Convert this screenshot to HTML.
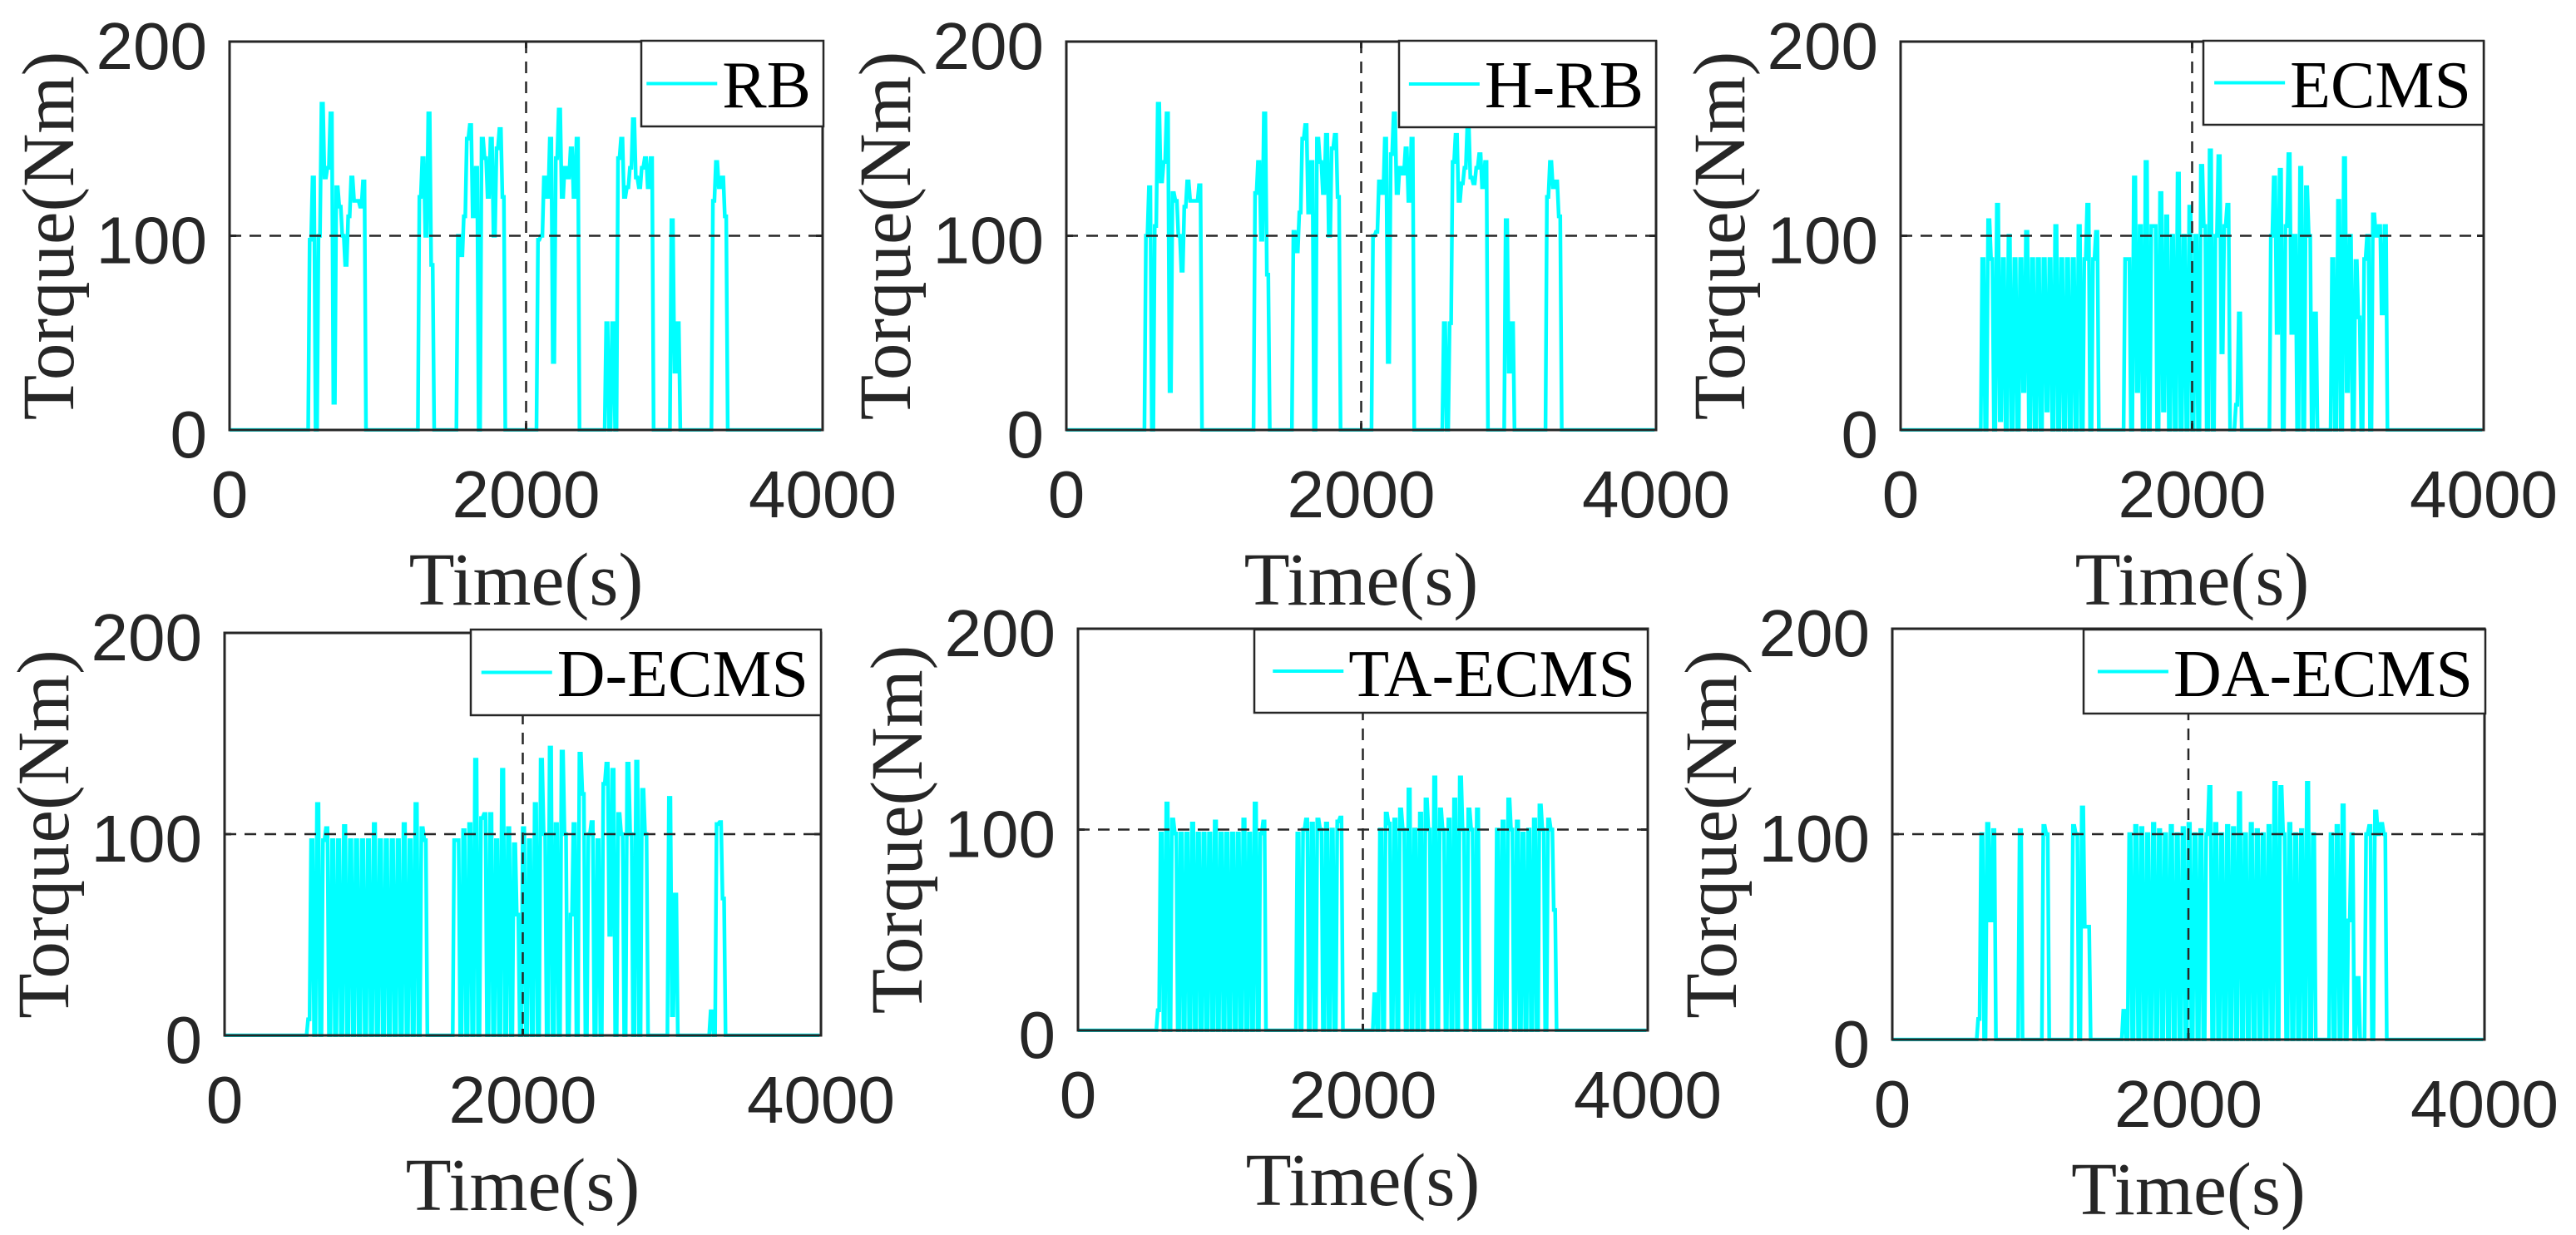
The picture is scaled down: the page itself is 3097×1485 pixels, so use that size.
<!DOCTYPE html>
<html>
<head>
<meta charset="utf-8">
<style>
html,body{margin:0;padding:0;background:#fff;}
svg{display:block;}
</style>
</head>
<body>
<svg id="fig" xmlns="http://www.w3.org/2000/svg" width="3097" height="1485" viewBox="0 0 3097 1485">
<rect x="0" y="0" width="3097" height="1485" fill="#fff"/>
</svg>
<script>
// Time sample step (s) and axis ranges
const sampleStep = 20;
const xTicks = [0, 2000, 4000];
const yTicks = [0, 100, 200];
const xTickLabels = ["0", "2000", "4000"];
const yTickLabels = ["0", "100", "200"];
const seriesNames = ["RB", "H-RB", "ECMS", "D-ECMS", "TA-ECMS", "DA-ECMS"];

const rbTorque = [0,0,0,0,0,0,0,0,0,0,0,0,0,0,0,0,0,0,0,0,0,0,0,0,0,0,
0,98,130,0,100,168,130,135,163,14,125,115,100,85,110,130,118,118,115,128,0,
0,0,0,0,0,0,0,0,0,0,0,0,0,0,0,0,0,
120,140,100,163,85,0,
0,0,0,0,0,0,0,
100,90,110,150,157,110,135,0,150,140,120,150,100,145,155,120,0,
0,0,0,0,0,0,0,0,0,0,
98,100,130,120,150,35,140,165,120,135,130,145,120,150,0,
0,0,0,0,0,0,0,0,
55,0,55,0,140,150,120,125,135,160,130,125,135,140,125,140,0,
0,0,0,0,0,
108,30,55,0,0,
0,0,0,0,0,0,0,0,0,
118,138,125,130,110,0,
0,0,0,0,0,0,0,0,0,0,0,0,0,0,0,0,0,0,0,0,0,0,0,0,0,0,0,0,0,0,0];

const hrbTorque = [0,0,0,0,0,0,0,0,0,0,0,0,0,0,0,0,0,0,0,0,0,0,0,0,0,0,
0,100,125,0,105,168,128,138,163,20,122,118,100,82,115,128,118,118,118,126,0,
0,0,0,0,0,0,0,0,0,0,0,0,0,0,0,0,0,
122,138,98,163,80,0,
0,0,0,0,0,0,0,
102,92,112,150,157,112,138,0,150,138,122,152,100,145,152,120,0,
0,0,0,0,0,0,0,0,0,0,
100,102,128,122,150,35,142,163,122,135,132,145,118,150,0,
0,0,0,0,0,0,0,0,
0,55,0,55,138,152,118,127,135,157,130,127,135,142,125,138,0,
0,0,0,0,0,
108,30,55,0,0,
0,0,0,0,0,0,0,0,0,
120,138,125,128,110,0,
0,0,0,0,0,0,0,0,0,0,0,0,0,0,0,0,0,0,0,0,0,0,0,0,0,0,0,0,0,0,0];

const ecmsTorque = [0,0,0,0,0,0,0,0,0,0,0,0,0,0,0,0,0,0,0,0,0,0,0,0,0,0,0,0,
88,0,108,88,0,116,5,88,0,100,0,88,0,88,20,102,0,88,0,88,0,88,10,88,0,105,0,88,0,88,0,88,0,105,0,88,116,0,88,102,0,
0,0,0,0,0,0,0,0,
88,88,0,130,20,105,0,138,0,105,105,0,122,10,110,0,100,0,132,0,100,0,115,0,100,0,136,105,0,144,0,100,141,40,105,116,0,0,13,60,0,
0,0,0,0,0,0,0,0,0,
100,130,50,134,0,105,142,50,100,0,135,0,125,100,0,60,0,
0,0,0,0,
88,0,118,0,140,20,100,0,87,58,0,88,100,0,111,100,105,60,105,0,0,
0,0,0,0,0,0,0,0,0,0,0,0,0,0,0,0,0,0,0,0,0,0,0,0,0,0,0,0,0,0,0];

const decmsTorque = [0,0,0,0,0,0,0,0,0,0,0,0,0,0,0,0,0,0,0,0,0,0,0,0,0,0,0,0,
8,
97,0,115,0,97,103,0,97,0,97,0,104,0,97,0,97,0,97,0,97,0,105,0,97,0,97,0,97,0,97,0,105,0,97,0,115,0,103,97,0,
0,0,0,0,0,0,0,0,
97,97,0,102,0,105,0,137,0,108,110,0,110,0,97,0,132,0,103,0,95,60,0,103,0,97,0,
115,0,137,100,0,143,0,105,0,141,100,0,60,105,0,140,120,0,100,106,0,97,0,125,135,50,132,0,110,100,0,135,100,0,136,0,122,100,0,0,
0,0,0,0,0,
118,10,70,0,
0,0,0,0,0,0,0,0,0,0,
12,0,105,106,68,0,
0,0,0,0,0,0,0,0,0,0,0,0,0,0,0,0,0,0,0,0,0,0,0,0,0,0,0,0,0,0,0];

const taecmsTorque = [0,0,0,0,0,0,0,0,0,0,0,0,0,0,0,0,0,0,0,0,0,0,0,0,0,0,0,0,
10,
98,0,113,0,105,98,0,98,0,98,0,103,0,98,0,98,0,98,0,104,0,98,0,98,0,98,0,98,0,105,0,98,0,113,0,98,104,0,0,
0,0,0,0,0,0,0,0,0,
98,0,100,105,0,103,0,105,100,0,103,0,100,0,104,106,0,
0,0,0,0,0,0,0,0,0,0,
18,0,
100,0,108,103,0,105,0,110,100,0,120,0,100,0,108,0,115,100,0,126,0,110,100,0,105,0,115,0,126,100,0,110,100,0,110,0,0,
0,0,0,0,
100,0,104,0,115,100,0,104,0,98,0,100,0,105,0,112,100,0,105,100,60,0,
0,0,0,0,0,0,0,0,0,0,0,0,0,0,0,0,0,0,0,0,0,0,0,0,0,0,0,0,0,0,0];

const daecmsTorque = [0,0,0,0,0,0,0,0,0,0,0,0,0,0,0,0,0,0,0,0,0,0,0,0,0,0,0,0,
0,10,100,0,105,58,102,0,
0,0,0,0,0,0,0,
102,0,
0,0,0,0,0,0,
104,100,0,
0,0,0,0,0,0,0,
104,100,0,113,55,55,0,
0,0,0,0,0,0,0,0,0,0,
14,0,
100,0,104,0,103,0,100,0,105,0,102,0,100,0,104,0,100,0,103,0,105,0,100,0,102,0,100,123,0,105,0,100,0,104,0,103,0,120,0,100,0,105,0,102,0,100,0,104,0,125,0,123,100,0,105,0,100,0,102,0,125,0,100,0,
0,0,0,0,
100,0,104,0,114,0,58,100,0,30,0,0,100,104,0,111,100,105,100,0,0,
0,0,0,0,0,0,0,0,0,0,0,0,0,0,0,0,0,0,0,0,0,0,0,0,0,0,0,0,0,0,0];

const allSeries = [rbTorque, hrbTorque, ecmsTorque, decmsTorque, taecmsTorque, daecmsTorque];

// Layout (pixel geometry)
const panels = [
  {L:276, R:989, T:50, B:517, lg:[771,49,990,152]},
  {L:1282, R:1991, T:50, B:517, lg:[1682,49,1991,153]},
  {L:2285, R:2986, T:50, B:517, lg:[2649,49,2986,150]},
  {L:270, R:987, T:761, B:1245, lg:[566,757,987,860]},
  {L:1296, R:1981, T:756, B:1239, lg:[1508,757,1981,857]},
  {L:2275, R:2987, T:756, B:1250, lg:[2505,757,2988,858]}
];

const NS = "http://www.w3.org/2000/svg";
const svg = document.getElementById('fig');
const AX = "#262626";
function mk(tag, attrs, parent){
  const e = document.createElementNS(NS, tag);
  for (const k in attrs) e.setAttribute(k, attrs[k]);
  (parent||svg).appendChild(e);
  return e;
}

panels.forEach((p, idx) => {
  const data = allSeries[idx];
  const name = seriesNames[idx];
  const xs = t => p.L + (t - 0) / 4000 * (p.R - p.L);
  const ys = v => p.B - (v - 0) / 200 * (p.B - p.T);
  const g = mk('g', {});
  
  

  const cid = 'clip' + idx;
  const cp = mk('clipPath', {id: cid}, g);
  mk('rect', {x: p.L, y: p.T - 2, width: p.R - p.L, height: p.B - p.T + 4}, cp);

  // series: each sample held for half a step, then a steep transition
  let d = '';
  for (let i = 0; i < data.length; i++) {
    const t = i * sampleStep;
    d += (i ? 'L' : 'M') + xs(t).toFixed(1) + ' ' + ys(data[i]).toFixed(1);
    d += 'L' + xs(t + sampleStep * 0.5).toFixed(1) + ' ' + ys(data[i]).toFixed(1);
  }
  const line = mk('path', {d: d, fill: 'none', stroke: '#00FFFF', 'stroke-width': 4.5, 'stroke-linejoin': 'miter', 'clip-path': 'url(#' + cid + ')'}, g);
  
  

  // reference dashed lines
  const hv = mk('line', {x1: p.L, x2: p.R, y1: ys(100), y2: ys(100), stroke: AX, 'stroke-width': 2.5, 'stroke-dasharray': '14 10'}, g);
  
  
  const vv = mk('line', {x1: xs(2000), x2: xs(2000), y1: p.T, y2: p.B, stroke: AX, 'stroke-width': 2.5, 'stroke-dasharray': '14 10'}, g);
  
  

  // axis frame
  const fr = mk('rect', {x: p.L, y: p.T, width: p.R - p.L, height: p.B - p.T, fill: 'none', stroke: AX, 'stroke-width': 3}, g);
  
  

  // ticks + labels
  xTicks.forEach((t, k) => {
    mk('line', {x1: xs(t), x2: xs(t), y1: p.B, y2: p.B - 8, stroke: AX, 'stroke-width': 3}, g);
    mk('line', {x1: xs(t), x2: xs(t), y1: p.T, y2: p.T + 8, stroke: AX, 'stroke-width': 3}, g);
    const tl = mk('text', {x: xs(t), y: p.B + 105, 'text-anchor': 'middle', 'font-family': 'Liberation Sans, Arial, sans-serif', 'font-size': 80, fill: AX}, g);
    tl.textContent = xTickLabels[k];
    
    
  });
  yTicks.forEach((v, k) => {
    mk('line', {x1: p.L, x2: p.L + 8, y1: ys(v), y2: ys(v), stroke: AX, 'stroke-width': 3}, g);
    mk('line', {x1: p.R, x2: p.R - 8, y1: ys(v), y2: ys(v), stroke: AX, 'stroke-width': 3}, g);
    const tl = mk('text', {x: p.L - 27, y: ys(v) + 33, 'text-anchor': 'end', 'font-family': 'Liberation Sans, Arial, sans-serif', 'font-size': 80, fill: AX}, g);
    tl.textContent = yTickLabels[k];
    
    
  });

  // axis titles
  const xt = mk('text', {x: (p.L + p.R) / 2, y: p.B + 210, 'text-anchor': 'middle', 'font-family': 'Liberation Serif, Times New Roman, serif', 'font-size': 90, fill: AX}, g);
  xt.textContent = 'Time(s)';
  
  
  const cy = (p.T + p.B) / 2;
  const yt = mk('text', {x: 0, y: 0, 'text-anchor': 'middle', 'font-family': 'Liberation Serif, Times New Roman, serif', 'font-size': 89, fill: AX, transform: 'translate(' + (p.L - 188) + ',' + cy + ') rotate(-90)'}, g);
  yt.textContent = 'Torque(Nm)';
  
  

  // legend
  const [lx1, ly1, lx2, ly2] = p.lg;
  const lg = mk('g', {}, g);
  
  
  mk('rect', {x: lx1, y: ly1, width: lx2 - lx1, height: ly2 - ly1, fill: '#fff', stroke: AX, 'stroke-width': 2.5}, lg);
  const lmid = (ly1 + ly2) / 2;
  const txt = mk('text', {x: lx2 - 15, y: ly1 + 80, 'text-anchor': 'end', 'font-family': 'Liberation Serif, Times New Roman, serif', 'font-size': 80, fill: '#000'}, lg);
  txt.textContent = name;
  
  
  const tw = txt.getComputedTextLength();
  const lineEnd = lx2 - 15 - tw - 6;
  const ll = mk('line', {x1: lineEnd - 85, x2: lineEnd, y1: lmid, y2: lmid, stroke: '#00FFFF', 'stroke-width': 4}, lg);
  
  
});
</script>
</body>
</html>
